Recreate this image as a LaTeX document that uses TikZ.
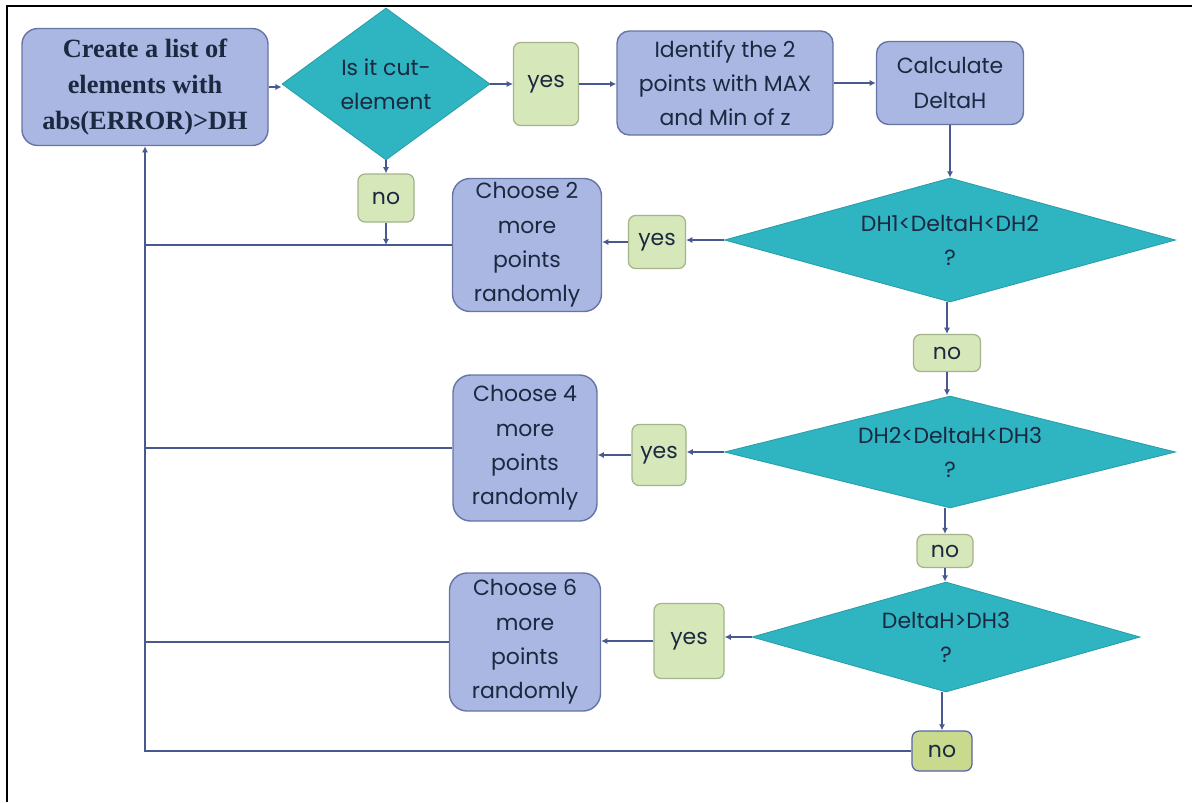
\documentclass[tikz,border=0pt]{standalone}
\usepackage{fontspec}
\setmainfont{Poppins}
\newfontfamily\titlefont{Liberation Serif}
\usetikzlibrary{shapes.geometric,arrows.meta}
\definecolor{boxfill}{HTML}{A9B7E2}
\definecolor{boxline}{HTML}{6874A6}
\definecolor{yesfill}{HTML}{D6E7BA}
\definecolor{yesline}{HTML}{A3B38A}
\definecolor{nofill}{HTML}{C9DA8E}
\definecolor{noline}{HTML}{5564A8}
\definecolor{decfill}{HTML}{2FB5C1}
\definecolor{decline}{HTML}{2A9EAA}
\definecolor{wire}{HTML}{4A5890}
\definecolor{ink}{HTML}{1B2840}
\def\unitpx{0.02cm}
% text of a decision, kept from widening the diamond
\newcommand{\dtext}[1]{\smash{\raisebox{-4pt}{\begin{tabular}{@{}c@{}}#1\end{tabular}}}}
\tikzset{
  sz/.style 2 args={minimum width=#1*\unitpx, minimum height=#2*\unitpx},
  procbox/.style={draw=boxline, line width=0.8pt, fill=boxfill, rounded corners=7pt,
    align=center, text=ink, inner sep=0pt, font=\fontsize{12.5}{19.5}\selectfont},
  ansbox/.style={draw=yesline, line width=0.7pt, fill=yesfill, rounded corners=4pt,
    align=center, text=ink, inner sep=0pt, font=\fontsize{12.5}{19.5}\selectfont},
  decision/.style={diamond, draw=decline, line width=0.5pt, fill=decfill, aspect=2,
    text=ink, inner sep=0pt, font=\fontsize{12.5}{19.5}\selectfont},
  flow/.style={draw=wire, line width=0.8pt, -{Latex[length=3.5pt,width=3.5pt]}},
  plain/.style={draw=wire, line width=0.8pt},
}
\begin{document}
\begin{tikzpicture}[x=0.02cm,y=-0.02cm]
\useasboundingbox (0,0) rectangle (1192,802);
% page frame
\draw[black, line width=1.2pt] (7,802) -- (7,6) -- (1192,6);

% top row
\node[procbox, sz={246}{117}, rounded corners=9pt, font=\titlefont\bfseries\fontsize{15}{20.5}\selectfont]
  (create) at (145,87) {Create a list of\\elements with\\abs(ERROR)>DH};
\node[decision, sz={208}{152}] (cut) at (386,84) {\dtext{Is it cut-\\element}};
\node[ansbox, sz={65}{83}] (yes0) at (546,84) {yes};
\node[procbox, sz={216}{104}] (ident) at (725,83) {Identify the 2\\points with MAX\\and Min of z};
\node[procbox, sz={147}{83}] (calc) at (950,83) {Calculate\\DeltaH};
\node[ansbox, sz={56}{48}] (no0) at (386,198) {no};

% first test
\node[decision, sz={451}{124}] (d1) at (950,240) {\dtext{DH1<DeltaH<DH2\\?}};
\node[ansbox, sz={57}{53}] (yes1) at (657,242) {yes};
\node[procbox, sz={149}{133}, rounded corners=10pt] (ch2) at (527,245) {Choose 2\\more\\points\\randomly};
\node[ansbox, sz={67}{37}] (no1) at (947,353) {no};

% second test
\node[decision, sz={451}{112}] (d2) at (950,452) {\dtext{DH2<DeltaH<DH3\\?}};
\node[ansbox, sz={54}{61}] (yes2) at (659,455) {yes};
\node[procbox, sz={144}{146}, rounded corners=10pt] (ch4) at (525,448) {Choose 4\\more\\points\\randomly};
\node[ansbox, sz={56}{33}] (no2) at (945,551) {no};

% third test
\node[decision, sz={388}{110}] (d3) at (946,637) {\dtext{DeltaH>DH3\\?}};
\node[ansbox, sz={70}{75}] (yes3) at (689,641) {yes};
\node[procbox, sz={151}{138}, rounded corners=10pt] (ch6) at (525,642) {Choose 6\\more\\points\\randomly};
\node[ansbox, draw=noline, fill=nofill, sz={60}{40}] (no3) at (942,751) {no};

% main flow
\draw[flow] (create.east) -- (create.east -| cut.west);
\draw[flow] (cut.east) -- (yes0.west);
\draw[flow] (yes0.east) -- (yes0.east -| ident.west);
\draw[flow] (ident.east) -- (ident.east -| calc.west);
\draw[flow] (calc.south) -- (calc.south |- d1.north);
\draw[flow] (cut.south) -- (no0.north);

\draw[flow] (d1.west) -- (d1.west -| yes1.east);
\draw[flow] (yes1.west) -- (ch2.east |- yes1.west);
\draw[flow] (d1.south -| no1.north) -- (no1.north);
\draw[flow] (no1.south) -- (no1.south |- d2.north);

\draw[flow] (d2.west) -- (d2.west -| yes2.east);
\draw[flow] (yes2.west) -- (ch4.east |- yes2.west);
\draw[flow] (d2.south -| no2.north) -- (no2.north);
\draw[flow] (no2.south) -- (no2.south |- d3.north);

\draw[flow] (d3.west) -- (d3.west -| yes3.east);
\draw[flow] (yes3.west) -- (ch6.east |- yes3.west);
\draw[flow] (d3.south -| no3.north) -- (no3.north);

% return paths to the list
\draw[plain] (ch2.west) -- (ch2.west -| create.south);
\draw[plain] (ch4.west) -- (ch4.west -| create.south);
\draw[plain] (ch6.west) -- (ch6.west -| create.south);
\draw[flow] (no0.south) -- (no0.south |- ch2.west);
\draw[flow] (no3.west) -| (create.south);
\end{tikzpicture}
\end{document}
